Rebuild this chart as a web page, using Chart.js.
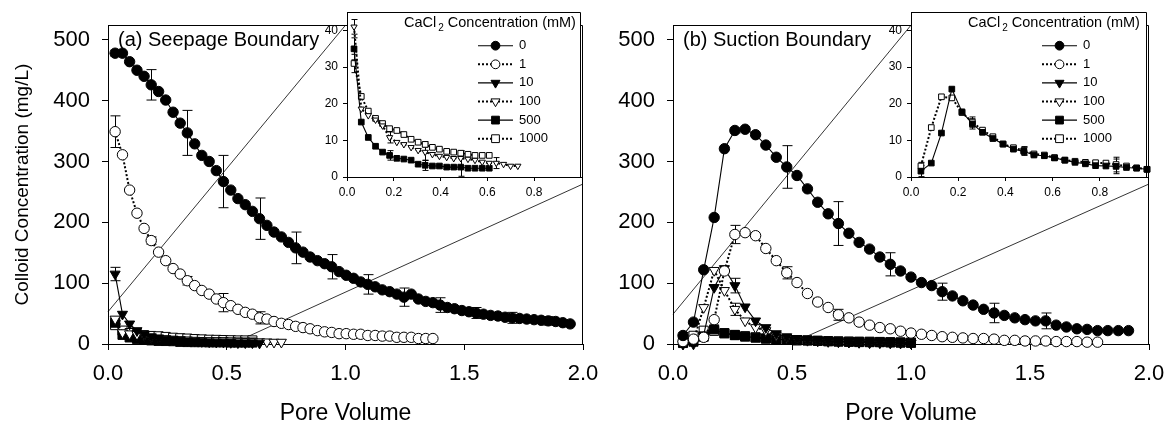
<!DOCTYPE html>
<html>
<head>
<meta charset="utf-8">
<script src="https://cdn.jsdelivr.net/npm/chart.js@4/dist/chart.umd.min.js"></script>
<style>
  body { margin: 0; background: #fff; }
  #fig { position: relative; width: 1173px; height: 430px; overflow: hidden; }
  #fig canvas { position: absolute; top: 0; }
</style>
</head>
<body>
<div id="fig">
  <canvas id="mainA" width="613" height="430" style="left:0px;width:613px;height:430px"></canvas>
  <canvas id="mainB" width="620" height="430" style="left:560px;width:620px;height:430px"></canvas>
  <canvas id="insetA" width="286" height="215" style="left:300px;width:286px;height:215px"></canvas>
  <canvas id="insetB" width="288" height="215" style="left:864px;width:288px;height:215px"></canvas>
</div>
<script>
// Pore volume sampling of each panel
const pvA = [0.030, 0.061, 0.091, 0.122, 0.152, 0.182, 0.213, 0.243, 0.274, 0.304,
  0.334, 0.365, 0.395, 0.426, 0.456, 0.486, 0.517, 0.547, 0.578, 0.608,
  0.638, 0.669, 0.699, 0.730, 0.760, 0.790, 0.821, 0.851, 0.882, 0.912,
  0.942, 0.973, 1.003, 1.034, 1.064, 1.094, 1.125, 1.155, 1.186, 1.216,
  1.246, 1.277, 1.307, 1.338, 1.368, 1.398, 1.429, 1.459, 1.490, 1.520,
  1.550, 1.581, 1.611, 1.642, 1.672, 1.702, 1.733, 1.763, 1.794, 1.824,
  1.854, 1.885, 1.915, 1.946];
const pvB = [0.042, 0.086, 0.129, 0.173, 0.216, 0.260, 0.303, 0.347, 0.390, 0.434,
  0.478, 0.521, 0.565, 0.608, 0.652, 0.695, 0.739, 0.782, 0.826, 0.869,
  0.913, 0.956, 1.000, 1.044, 1.087, 1.131, 1.174, 1.218, 1.261, 1.305,
  1.349, 1.392, 1.436, 1.479, 1.523, 1.566, 1.610, 1.653, 1.697, 1.740,
  1.784, 1.827, 1.871, 1.914];

const concLabels = ['0', '1', '10', '100', '500', '1000'];

// (a) Seepage boundary, mg/L
const seep0 = [478, 478, 464, 450, 440, 426, 415, 401, 381, 363, 347, 329, 310, 300, 285, 267,
  253, 239, 229, 218, 206, 195, 184, 176, 167, 158, 151, 143, 137, 132, 127, 119, 113, 108,
  102, 98, 94, 89, 86, 82, 77, 82, 74, 70, 68, 64, 60, 58, 55, 53, 51, 49, 47, 46, 44, 43,
  42, 41, 40, 39, 38, 37, 35, 33];
const seep1 = [349, 311, 253, 215, 190, 170, 151, 137, 124, 115, 104, 96, 88, 82, 74, 68, 63,
  57, 52, 49, 43, 41, 37, 34, 32, 29, 27, 25, 22, 20, 19, 17, 17, 16, 16, 14, 14, 13, 13,
  11, 11, 11, 9, 9, 9];
const seep10 = [115, 49, 33, 22, 16, 12, 10, 8, 7, 6, 5, 4.5, 4, 3.5, 3, 3, 2.5, 2, 2, 2, 1.5];
const seep100 = [41, 18.6, 16.8, 15.6, 14, 10.8, 9.5, 8.9, 8.1, 7.3, 6.8, 6.2, 5.7, 5.4, 5.1,
  5.1, 4.9, 4.6, 4.1, 3.8, 3.8, 3.5, 3, 3];
const seep500 = [35, 15, 10.8, 8.4, 6.8, 5.9, 5.1, 4.9, 4.6, 3.5, 3.2, 3, 3, 2.7, 2.7, 2.7,
  2.4, 2.4, 2.4, 2.4];
const seep1000 = [31, 22, 18, 16, 14.6, 13.2, 12.7, 11.6, 10.3, 9.5, 8.9, 8.1, 7.6, 7, 6.8,
  6.5, 6.2, 5.9, 5.9, 5.9];
// error bars: [point index, +/- value]
const seep0Err = [[0, 5], [5, 25], [10, 37], [15, 43], [20, 34], [25, 26], [30, 20], [35, 16],
  [40, 15], [45, 12], [50, 9], [55, 9], [60, 7]];
const seep1Err = [[0, 26], [5, 6], [10, 7], [15, 15], [20, 10], [25, 5], [30, 4]];
const seep10Err = [[0, 11]];
const seep100Err = [[0, 2], [5, 1.5], [10, 2.3], [15, 2], [20, 1.5]];
const seep500Err = [[0, 3], [5, 1.3], [10, 1.4], [15, 2.5]];
const seep1000Err = [[0, 2.5], [10, 0.7], [15, 0.7]];

// (b) Suction boundary, mg/L
const suct0 = [14, 36, 122, 208, 321, 351, 353, 344, 327, 307, 291, 277, 255, 233, 214, 198,
  182, 167, 156, 143, 131, 120, 110, 101, 96, 86, 79, 71, 64, 57, 51, 47, 43, 40, 38, 38,
  31, 28, 25, 24, 22, 22, 22, 22];
const suct1 = [4, 8, 11, 40, 120, 180, 183, 178, 157, 137, 117, 101, 83, 69, 60, 48, 43, 36,
  31, 27, 25, 21, 18, 16, 14, 12, 11, 10, 9, 9, 8, 6, 6, 5, 5, 5, 4, 4, 4, 3, 3];
const suct10 = [0, 0, 15, 93, 124, 96, 61, 38, 27, 17, 12, 9, 7, 6, 5, 4, 3.5, 3, 2.5, 2.5, 2, 2, 1.5];
const suct100 = [0, 5, 60, 121, 88, 57, 38, 27, 22, 14, 10, 8, 6, 5, 4, 3.5, 3, 2.5, 2, 2, 2, 1.5, 1.5];
const suct500 = [1.6, 3.8, 12, 24, 17.8, 14.5, 12.2, 10.5, 9, 7.6, 7.0, 6.0, 5.8, 5.2, 4.6,
  4.0, 3.6, 3.1, 3.0, 2.9, 2.6, 2.4, 2.1];
const suct1000 = [3.0, 13.5, 21.9, 21.6, 17.6, 15.0, 12.8, 11.0, 9.0, 8.0, 7.2, 6.3, 6.0, 5.3,
  4.6, 4.3, 4.0, 3.9, 3.8, 3.4, 3.0, 2.5, 2.1];
const suct0Err = [[0, 5], [5, 4], [10, 35], [15, 36], [20, 19], [25, 14], [30, 16], [35, 13]];
const suct1Err = [[0, 3], [5, 15], [10, 10], [15, 9]];
const suct10Err = [[5, 12]];
const suct100Err = [[5, 10]];
const suct500Err = [[0, 1.5], [5, 1.4], [10, 1.1], [19, 2]];
const suct1000Err = [[0, 1], [5, 1.4], [10, 1.1], [19, 2]];

// axis ticks
const xTicksMain = [0, 0.5, 1, 1.5, 2];
const yTicksMain = [0, 100, 200, 300, 400, 500];
const xTicksInset = [0, 0.2, 0.4, 0.6, 0.8];
const yTicksInset = [0, 10, 20, 30, 40];

// zoom guide lines (main-axis units), running to the inset corners
const guideA = [[[0, 53], [1.0, 524]], [[0.52, 0], [2.0, 263]]];
const guideB = [[[0, 49], [1.0, 524]], [[0.49, 0], [2.0, 263]]];

Chart.defaults.font.family = '"Liberation Sans", Arial, sans-serif';
Chart.defaults.color = '#000';

const markerStyles = [
  {shape: 'circle', rotation: 0, filled: true, dotted: false},
  {shape: 'circle', rotation: 0, filled: false, dotted: true},
  {shape: 'triangle', rotation: 180, filled: true, dotted: false},
  {shape: 'triangle', rotation: 180, filled: false, dotted: true},
  {shape: 'rect', rotation: 0, filled: true, dotted: false},
  {shape: 'rect', rotation: 0, filled: false, dotted: true},
];
const mainSize = {circle: 5.2, triangle: 5.8, rect: 6.4};
const insetSize = {circle: 3, triangle: 3.6, rect: 4};
const legendSize = {circle: 4.4, triangle: 5.2, rect: 5.5};

function seriesDataset(k, xs, ys, errs, size) {
  const m = markerStyles[k];
  return {
    label: concLabels[k],
    data: ys.map((v, i) => ({x: xs[i], y: v})),
    errors: errs,
    showLine: true,
    borderColor: '#000',
    borderWidth: m.dotted ? 2 : 1.1,
    borderDash: m.dotted ? [2, 2] : [],
    pointStyle: m.shape,
    pointRotation: m.rotation,
    pointRadius: size[m.shape],
    pointBackgroundColor: m.filled ? '#000' : '#fff',
    pointBorderColor: '#000',
    pointBorderWidth: 1,
    clip: false,
    order: k
  };
}

function guideDataset(seg) {
  return {
    data: seg.map(([x, y]) => ({x, y})),
    showLine: true,
    borderColor: '#000',
    borderWidth: 0.8,
    pointRadius: 0,
    clip: false,
    order: 20
  };
}

const errorBars = {
  id: 'errorBars',
  beforeDatasetsDraw(chart, args, opts) {
    const {ctx} = chart;
    const xs = chart.scales.x, ys = chart.scales.y;
    ctx.save();
    ctx.setLineDash([]);
    ctx.strokeStyle = '#000';
    ctx.lineWidth = 1;
    chart.data.datasets.forEach(ds => {
      if (!ds.errors) return;
      ds.errors.forEach(([i, e]) => {
        const p = ds.data[i];
        const px = Math.round(xs.getPixelForValue(p.x)) + 0.5;
        const y1 = ys.getPixelForValue(p.y - e);
        const y2 = ys.getPixelForValue(p.y + e);
        ctx.beginPath();
        ctx.moveTo(px, y1); ctx.lineTo(px, y2);
        ctx.moveTo(px - opts.cap, y1); ctx.lineTo(px + opts.cap, y1);
        ctx.moveTo(px - opts.cap, y2); ctx.lineTo(px + opts.cap, y2);
        ctx.stroke();
      });
    });
    ctx.restore();
  }
};

const frame = {
  id: 'frame',
  beforeDraw(chart, args, opts) {
    if (!opts.fill) return;
    const a = chart.chartArea;
    chart.ctx.save();
    chart.ctx.fillStyle = '#fff';
    chart.ctx.fillRect(a.left, a.top, a.right - a.left, a.bottom - a.top);
    chart.ctx.restore();
  },
  afterDraw(chart, args, opts) {
    const {ctx, chartArea: a} = chart;
    ctx.save();
    ctx.setLineDash([]);
    ctx.strokeStyle = '#000';
    ctx.lineWidth = 1;
    const t = Math.round(a.top) + 0.5, r = Math.round(a.right) - 0.5;
    ctx.beginPath();
    ctx.moveTo(a.left, t); ctx.lineTo(r, t); ctx.lineTo(r, a.bottom);
    ctx.stroke();
    if (opts.label) {
      ctx.fillStyle = '#000';
      ctx.font = '20px "Liberation Sans", Arial, sans-serif';
      ctx.textBaseline = 'middle';
      ctx.fillText(opts.label, a.left + 10, a.top + 15);
    }
    ctx.restore();
  }
};

const concLegend = {
  id: 'concLegend',
  afterDraw(chart) {
    const {ctx, chartArea: a} = chart;
    const fam = '"Liberation Sans", Arial, sans-serif';
    ctx.save();
    ctx.fillStyle = '#000';
    ctx.textBaseline = 'middle';
    let x = a.left + 57;
    const ty = a.top + 11;
    ctx.font = '14.5px ' + fam;
    ctx.fillText('CaCl', x, ty);
    x += ctx.measureText('CaCl').width + 2;
    ctx.font = '10px ' + fam;
    ctx.fillText('2', x, ty + 5);
    x += ctx.measureText('2').width;
    ctx.font = '14.5px ' + fam;
    ctx.fillText(' Concentration (mM)', x, ty);

    concLabels.forEach((lab, k) => {
      const m = markerStyles[k];
      const y = a.top + 33.5 + 18.6 * k;
      ctx.strokeStyle = '#000';
      ctx.lineWidth = m.dotted ? 2 : 1.1;
      ctx.setLineDash(m.dotted ? [2, 2] : []);
      ctx.beginPath();
      ctx.moveTo(a.left + 131, y);
      ctx.lineTo(a.left + 166, y);
      ctx.stroke();
      ctx.setLineDash([]);
      ctx.lineWidth = 1;
      ctx.fillStyle = m.filled ? '#000' : '#fff';
      Chart.helpers.drawPoint(ctx, {pointStyle: m.shape, rotation: m.rotation,
        radius: legendSize[m.shape], borderWidth: 1}, a.left + 148.5, y);
      ctx.fillStyle = '#000';
      ctx.font = '13px ' + fam;
      ctx.fillText(lab, a.left + 172, y);
    });
    ctx.restore();
  }
};

function setTicks(list) {
  return scale => { scale.ticks = list.map(v => ({value: v})); };
}

function mainChart(id, datasets, opt) {
  return new Chart(document.getElementById(id), {
    type: 'scatter',
    data: {datasets},
    options: {
      responsive: false,
      animation: false,
      devicePixelRatio: 1,
      events: [],
      layout: {padding: {top: 11, right: opt.padRight, left: 0, bottom: 0}},
      plugins: {
        legend: {display: false},
        tooltip: {enabled: false},
        frame: {label: opt.label},
        errorBars: {cap: 5}
      },
      scales: {
        x: {
          type: 'linear', min: 0, max: 2,
          afterBuildTicks: setTicks(xTicksMain),
          afterFit: s => { s.height = 86; },
          ticks: {callback: v => v.toFixed(1), font: {size: 22}, padding: 11, autoSkip: false, maxRotation: 0},
          grid: {drawOnChartArea: false, tickLength: 6, color: '#000', tickColor: '#000'},
          border: {color: '#000', width: 1},
          title: {display: true, text: 'Pore Volume', font: {size: 23}, padding: {top: 0, bottom: 3}}
        },
        y: {
          type: 'linear', min: 0, max: 524,
          afterBuildTicks: setTicks(yTicksMain),
          afterFit: s => { s.width = opt.yWidth; },
          ticks: {font: {size: 22}, padding: 12, autoSkip: false},
          grid: {drawOnChartArea: false, tickLength: 6, color: '#000', tickColor: '#000'},
          border: {color: '#000', width: 1},
          title: {display: !!opt.yTitle, text: opt.yTitle || '', font: {size: 19}, padding: {top: 11, bottom: 0}}
        }
      }
    },
    plugins: [errorBars, frame]
  });
}

function insetChart(id, datasets) {
  return new Chart(document.getElementById(id), {
    type: 'scatter',
    data: {datasets},
    options: {
      responsive: false,
      animation: false,
      devicePixelRatio: 1,
      events: [],
      layout: {padding: {top: 11, right: 3, left: 0, bottom: 0}},
      plugins: {
        legend: {display: false},
        tooltip: {enabled: false},
        frame: {fill: true},
        errorBars: {cap: 3}
      },
      scales: {
        x: {
          type: 'linear', min: 0, max: 1,
          afterBuildTicks: setTicks(xTicksInset),
          afterFit: s => { s.height = 38; },
          ticks: {callback: v => v.toFixed(1), font: {size: 12}, padding: 4, autoSkip: false, maxRotation: 0},
          grid: {drawOnChartArea: false, tickLength: 4, color: '#000', tickColor: '#000'},
          border: {color: '#000', width: 1}
        },
        y: {
          type: 'linear', min: 0, max: 45,
          afterBuildTicks: setTicks(yTicksInset),
          afterFit: s => { s.width = 47; },
          ticks: {font: {size: 12}, padding: 5, autoSkip: false},
          grid: {drawOnChartArea: false, tickLength: 4, color: '#000', tickColor: '#000'},
          border: {color: '#000', width: 1}
        }
      }
    },
    plugins: [frame, errorBars, concLegend]
  });
}

const seepSeries = [seep0, seep1, seep10, seep100, seep500, seep1000];
const seepErrs = [seep0Err, seep1Err, seep10Err, seep100Err, seep500Err, seep1000Err];
const suctSeries = [suct0, suct1, suct10, suct100, suct500, suct1000];
const suctErrs = [suct0Err, suct1Err, suct10Err, suct100Err, suct500Err, suct1000Err];

mainChart('mainA',
  seepSeries.map((s, k) => seriesDataset(k, pvA, s, seepErrs[k], mainSize))
    .concat(guideA.map(guideDataset)),
  {padRight: 30, yWidth: 108, label: '(a) Seepage Boundary', yTitle: 'Colloid Concentration (mg/L)'});

mainChart('mainB',
  suctSeries.map((s, k) => seriesDataset(k, pvB, s, suctErrs[k], mainSize))
    .concat(guideB.map(guideDataset)),
  {padRight: 31, yWidth: 113, label: '(b) Suction Boundary'});

insetChart('insetA', [3, 4, 5].map(k => seriesDataset(k, pvA, seepSeries[k], seepErrs[k], insetSize)));
insetChart('insetB', [4, 5].map(k => seriesDataset(k, pvB, suctSeries[k], suctErrs[k], insetSize)));
</script>
</body>
</html>
